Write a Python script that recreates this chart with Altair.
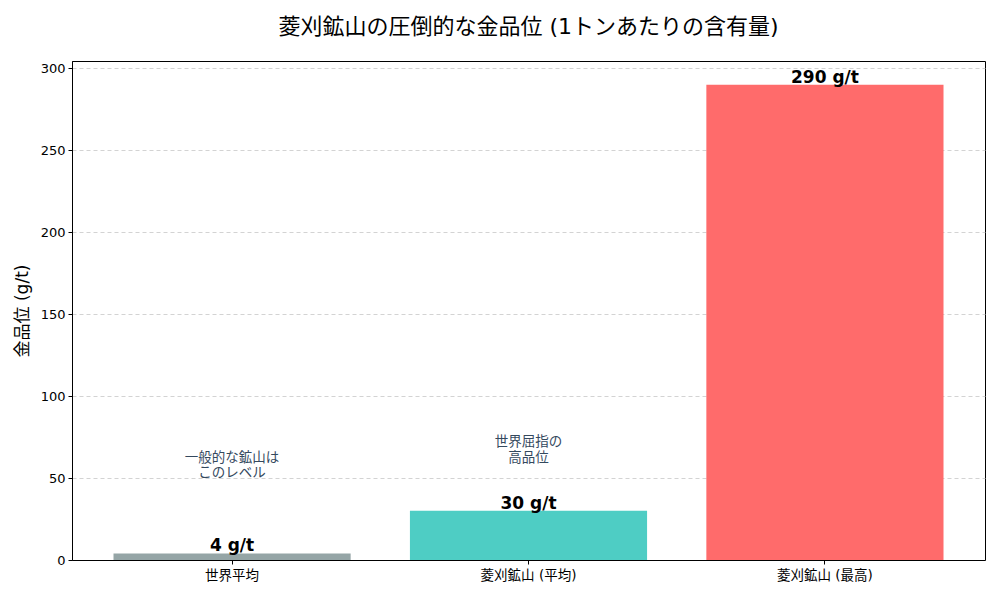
import altair as alt
import pandas as pd

categories = ["世界平均", "菱刈鉱山 (平均)", "菱刈鉱山 (最高)"]
values = [4, 30, 290]
bar_labels = ["4 g/t", "30 g/t", "290 g/t"]
bar_colors = ["#95a5a6", "#4ecdc4", "#ff6b6b"]

ann_categories = ["世界平均", "菱刈鉱山 (平均)"]
ann_texts = ["一般的な鉱山は\nこのレベル", "世界屈指の\n高品位"]
ann_y = [62.5, 71.8]

y_ticks = [0, 50, 100, 150, 200, 250, 300]

FONT = "DejaVu Sans, Noto Sans CJK JP"

df = pd.DataFrame({"cat": categories, "val": values, "lab": bar_labels, "col": bar_colors})
ann = pd.DataFrame({"cat": ann_categories, "txt": ann_texts, "y": ann_y})

x_enc = alt.X(
    "cat:N",
    sort=categories,
    scale=alt.Scale(paddingInner=0.2, paddingOuter=0.14),
    axis=alt.Axis(title=None, labelAngle=0, labelFontSize=13.5, labelColor="#000000",
                  labelFont=FONT, tickColor="#000000", tickSize=4, labelPadding=4,
                  domainColor="#000000", grid=False),
)
y_scale = alt.Scale(domain=[0, 304.5], nice=False, zero=True)

bars = alt.Chart(df).mark_bar().encode(
    x=x_enc,
    y=alt.Y("val:Q", scale=y_scale,
            axis=alt.Axis(values=y_ticks, title="金品位 (g/t)", titleFontSize=17,
                          titleFont=FONT, titleFontWeight="normal", titleColor="#000000",
                          titlePadding=9, labelFontSize=13, labelFont=FONT,
                          labelColor="#000000", tickColor="#000000", tickSize=4,
                          labelPadding=3, domainColor="#000000",
                          grid=True, gridColor="#c8c8c8", gridDash=[4, 3], gridWidth=0.8)),
    color=alt.Color("col:N", scale=None),
)

labels = alt.Chart(df).mark_text(
    baseline="bottom", fontSize=17, fontWeight="bold", font=FONT, color="#000000", dy=2
).encode(
    x=alt.X("cat:N", sort=categories),
    y=alt.Y("val:Q", scale=y_scale),
    text="lab:N",
)

notes = alt.Chart(ann).mark_text(
    baseline="middle", fontSize=13.5, font=FONT, color="#34495e", lineBreak="\n", lineHeight=15.5
).encode(
    x=alt.X("cat:N", sort=categories),
    y=alt.Y("y:Q", scale=y_scale),
    text="txt:N",
)

chart = alt.layer(bars, labels, notes).properties(
    width=913,
    height=499,
    title=alt.TitleParams("菱刈鉱山の圧倒的な金品位 (1トンあたりの含有量)", fontSize=22,
                          font=FONT, fontWeight="normal", color="#000000", offset=22,
                          anchor="middle"),
    autosize=alt.AutoSizeParams(type="none"),
    padding={"left": 64, "top": 53, "right": 7, "bottom": 32},
).configure_view(stroke="#000000", strokeWidth=1).configure_axis(domainWidth=1)

chart.save("out.html", embed_options={"renderer": "svg", "actions": False})
